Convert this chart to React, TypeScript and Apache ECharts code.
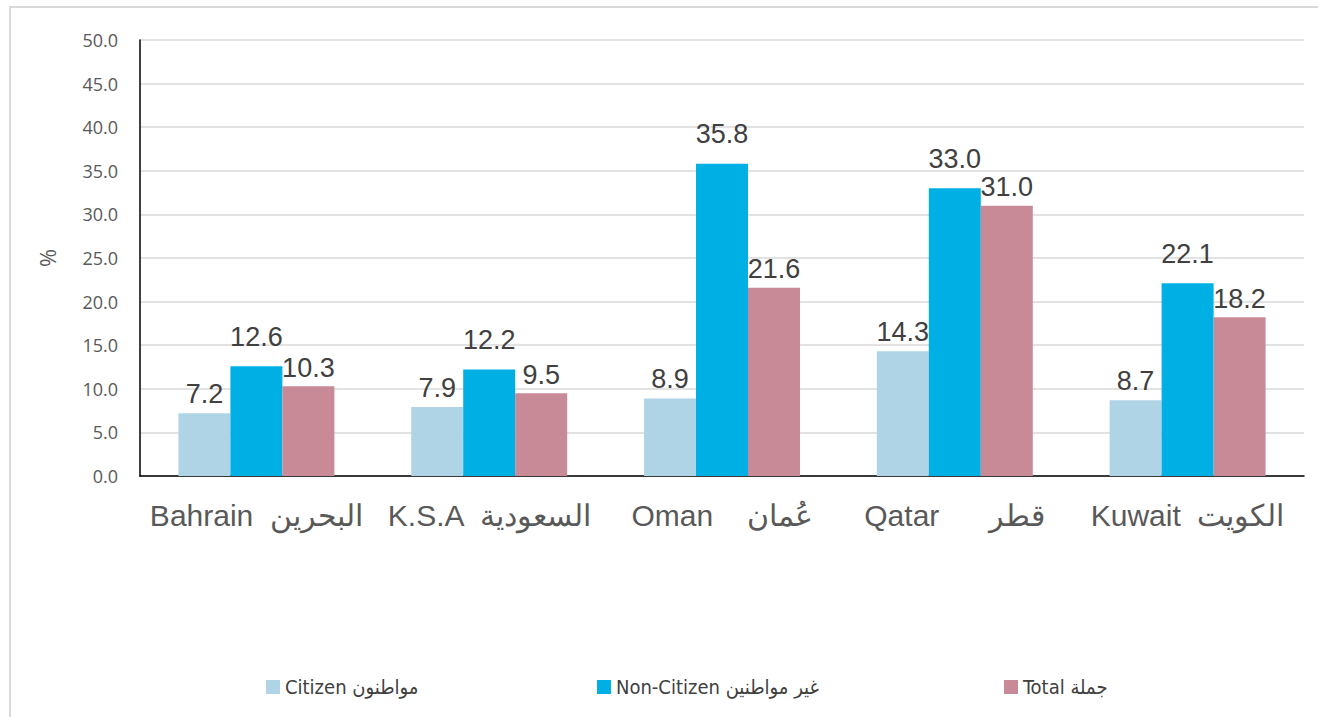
import React, { useEffect, useRef } from "react";
import * as echarts from "echarts";

const categories = ["Bahrain  البحرين", "K.S.A  السعودية", "Oman    عُمان", "Qatar      قطر", "Kuwait  الكويت"];
const citizen = [7.2, 7.9, 8.9, 14.3, 8.7];
const nonCitizen = [12.6, 12.2, 35.8, 33.0, 22.1];
const total = [10.3, 9.5, 21.6, 31.0, 18.2];
const seriesNames = ["Citizen مواطنون", "Non-Citizen غير مواطنين", "Total جملة"];
const colors = ["#AFD4E6", "#00B0E4", "#C88A97"];
const labelDistances = [6, 16, 5];

export default function App() {
  const ref = useRef<HTMLDivElement>(null);
  useEffect(() => {
    if (!ref.current) return;
    const chart = echarts.init(ref.current, null, { renderer: "svg" });
    const datas = [citizen, nonCitizen, total];
    const legendLefts = [261, 592, 999];
    chart.setOption({
      animation: false,
      graphic: [
        {
          type: "rect",
          shape: { x: 10, y: 7, width: 1400, height: 800 },
          style: { fill: "none", stroke: "#d9d9d9", lineWidth: 2 },
          silent: true,
        },
      ],
      grid: { left: 140, right: 14, top: 40, bottom: 241 },
      legend: seriesNames.map((n, i) => ({
        data: [n],
        left: legendLefts[i],
        top: 672,
        itemWidth: 14,
        itemHeight: 14,
        itemGap: 4,
        icon: "rect",
        textStyle: {
          fontFamily: "'Liberation Sans Narrow', 'DejaVu Sans Condensed', 'Noto Sans', sans-serif",
          fontSize: 20,
          color: "#404040",
        },
      })),
      xAxis: {
        type: "category",
        data: categories,
        axisLine: { show: true, lineStyle: { color: "#000", width: 1.5 } },
        axisTick: { show: false },
        axisLabel: {
          interval: 0,
          margin: 24,
          fontFamily: "'Liberation Sans', Arial, sans-serif",
          fontSize: 30,
          color: "#595959",
        },
      },
      yAxis: {
        type: "value",
        min: 0,
        max: 50,
        interval: 5,
        name: "%",
        nameLocation: "middle",
        nameGap: 82,
        nameRotate: 90,
        nameTextStyle: { fontFamily: "'Open Sans', sans-serif", fontSize: 22, color: "#595959" },
        axisLine: { show: true, lineStyle: { color: "#000", width: 1.5 } },
        axisTick: { show: false },
        splitLine: { lineStyle: { color: "#d9d9d9", width: 1.5 } },
        axisLabel: {
          margin: 22,
          fontFamily: "'Open Sans', 'Noto Sans', sans-serif",
          fontSize: 18,
          color: "#595959",
          formatter: (v: number) => v.toFixed(1),
        },
      },
      series: seriesNames.map((n, i) => ({
        name: n,
        type: "bar",
        data: datas[i],
        barGap: "0%",
        barCategoryGap: "33%",
        itemStyle: { color: colors[i] },
        label: {
          show: true,
          position: "top",
          distance: labelDistances[i],
          fontFamily: "'Liberation Sans', Arial, sans-serif",
          fontSize: 27,
          color: "#404040",
          formatter: (p: any) => Number(p.value).toFixed(1),
        },
      })),
    });
    return () => chart.dispose();
  }, []);
  return <div ref={ref} style={{ position: "absolute", left: 0, top: 0, width: 1318, height: 717 }} />;
}
